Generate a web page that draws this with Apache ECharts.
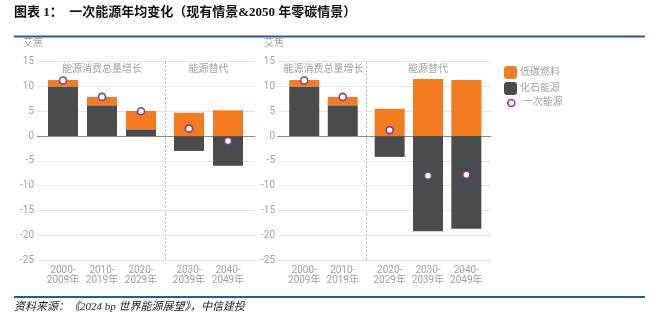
<!DOCTYPE html>
<html><head><meta charset="utf-8">
<script src="https://cdn.jsdelivr.net/npm/echarts@6/dist/echarts.min.js"></script>
<style>html,body{margin:0;padding:0;background:#fff}#c{width:664px;height:328px}</style>
</head><body><div id="c"></div>
<script>
// Categories
const catGrowth = ['2000-\n2009年', '2010-\n2019年', '2020-\n2029年'];
const catSubst = ['2030-\n2039年', '2040-\n2049年'];
const catGrowthR = ['2000-\n2009年', '2010-\n2019年'];
const catSubstR = ['2020-\n2029年', '2030-\n2039年', '2040-\n2049年'];
// Left panel (现有情景)
const leftFossil = [10.0, 6.2, 1.35, -3.0, -6.0];
const leftLowCarbon = [1.3, 1.7, 3.7, 4.7, 5.2];
const leftPrimary = [11.2, 7.9, 5.0, 1.5, -1.0];
// Right panel (2050 零碳情景)
const rightFossil = [10.0, 6.2, -4.2, -19.2, -18.7];
const rightLowCarbon = [1.3, 1.7, 5.5, 11.5, 11.3];
const rightPrimary = [11.2, 7.9, 1.2, -8.0, -7.8];
const yTicks = { min: -25, max: 15, interval: 5 };
const unitLabel = '艾焦';
const groupNames = ['能源消费总量增长', '能源替代'];
const seriesNames = ['化石能源', '低碳燃料', '一次能源'];

const ORANGE = '#F47B20', DARK = '#4A4B4D', PURPLE = '#7B3F9E';
const FONT = "Roboto, 'Noto Sans CJK SC', sans-serif";
const TXT = '#a0a0a0';
const TOP = 61.7, BOTTOM = 260;
const H = BOTTOM - TOP;

const bgGrids = [{ left: 37, width: 218 }, { left: 278, width: 213 }];
const barGrids = [
  { left: 43.5, width: 117, cats: catGrowth, idx: [0, 1, 2], panel: 0 },
  { left: 169.5, width: 78, cats: catSubst, idx: [3, 4], panel: 0 },
  { left: 285, width: 77, cats: catGrowthR, idx: [0, 1], panel: 1 },
  { left: 370.5, width: 115, cats: catSubstR, idx: [2, 3, 4], panel: 1 }
];
const panelData = [
  { fossil: leftFossil, lc: leftLowCarbon, pr: leftPrimary },
  { fossil: rightFossil, lc: rightLowCarbon, pr: rightPrimary }
];

const grid = [], xAxis = [], yAxis = [], series = [];
bgGrids.forEach((g, i) => {
  grid.push({ left: g.left, top: TOP, width: g.width, height: H });
  xAxis.push({ type: 'category', data: [''], gridIndex: i,
    axisLine: { show: true, onZero: true, lineStyle: { color: '#8a8a8a', width: 1 } },
    axisTick: { show: false }, axisLabel: { show: false } });
  yAxis.push({ type: 'value', gridIndex: i, min: yTicks.min, max: yTicks.max, interval: yTicks.interval,
    axisLine: { show: false }, axisTick: { show: false },
    splitLine: { lineStyle: { color: '#e5e5e5', width: 1 } },
    axisLabel: { color: TXT, fontSize: 10, fontFamily: FONT, margin: 3 } });
});
barGrids.forEach((g, k) => {
  const gi = k + 2;
  grid.push({ left: g.left, top: TOP, width: g.width, height: H });
  xAxis.push({ type: 'category', data: g.cats, gridIndex: gi,
    axisLine: { show: false }, axisTick: { show: false },
    axisLabel: { color: TXT, fontSize: 10, fontFamily: FONT, margin: 5, lineHeight: 10, interval: 0 } });
  yAxis.push({ type: 'value', gridIndex: gi, min: yTicks.min, max: yTicks.max, interval: yTicks.interval, show: false, splitLine: { show: false } });
  const pd = panelData[g.panel];
  const pick = arr => g.idx.map(i => arr[i]);
  series.push({ name: seriesNames[0], type: 'bar', stack: 's' + k, xAxisIndex: gi, yAxisIndex: gi,
    barWidth: 30, data: pick(pd.fossil), itemStyle: { color: DARK } });
  series.push({ name: seriesNames[1], type: 'bar', stack: 's' + k, xAxisIndex: gi, yAxisIndex: gi,
    barWidth: 30, data: pick(pd.lc), itemStyle: { color: ORANGE } });
  series.push({ name: seriesNames[2], type: 'scatter', xAxisIndex: gi, yAxisIndex: gi, z: 5,
    symbol: 'circle', symbolSize: 7, data: pick(pd.pr),
    itemStyle: { color: '#fff', borderColor: PURPLE, borderWidth: 1.6, opacity: 1 } });
});

const graphic = [
  { type: 'text', left: 14, top: 6, style: { text: '图表 1：  一次能源年均变化（现有情景&2050 年零碳情景）', font: "bold 13px 'Liberation Serif', 'Noto Sans CJK SC'", fill: '#111' } },
  { type: 'line', shape: { x1: 14, y1: 36.5, x2: 645, y2: 36.5 }, style: { stroke: '#2C5C8F', lineWidth: 2 } },
  { type: 'line', shape: { x1: 14, y1: 297, x2: 645, y2: 297 }, style: { stroke: '#2C5C8F', lineWidth: 2 } },
  { type: 'text', left: 14, top: 302, style: { text: '资料来源：《2024 bp 世界能源展望》，中信建投', font: "italic 11px 'Liberation Serif', 'Noto Sans CJK SC'", fill: '#222' } },
  { type: 'text', left: 23, top: 39, style: { text: unitLabel, font: '10px ' + FONT, fill: TXT } },
  { type: 'text', left: 264, top: 39, style: { text: unitLabel, font: '10px ' + FONT, fill: TXT } }
];
// separators between groups
[[barGrids[0], barGrids[1]], [barGrids[2], barGrids[3]]].forEach(([a, b]) => {
  const x = Math.round((a.left + a.width + b.left) / 2) + 0.5;
  graphic.push({ type: 'line', shape: { x1: x, y1: TOP, x2: x, y2: BOTTOM }, style: { stroke: '#aaaaaa', lineWidth: 1, lineDash: [2, 2] } });
});
// group headings
barGrids.forEach((g, k) => {
  graphic.push({ type: 'text', x: g.left + g.width / 2, y: 69, style: { text: groupNames[k % 2 === 0 ? 0 : 1], font: '10px ' + FONT, fill: TXT, align: 'center', verticalAlign: 'middle' } });
});

const option = {
  animation: false,
  grid, xAxis, yAxis, series, graphic,
  legend: [
    { left: 499, top: 61, orient: 'vertical', itemWidth: 13, itemHeight: 13, itemGap: 3,
      data: [seriesNames[1], seriesNames[0]],
      textStyle: { color: TXT, fontSize: 10, fontFamily: FONT, padding: [0, 0, 0, -2] } },
    { left: 502, top: 93, orient: 'vertical', itemWidth: 7, itemHeight: 7,
      data: [{ name: seriesNames[2], icon: 'circle' }],
      itemStyle: { color: '#fff', borderColor: PURPLE, borderWidth: 1.6 },
      textStyle: { color: TXT, fontSize: 10, fontFamily: FONT, padding: [0, 0, 0, 3] } }
  ]
};
const chart = echarts.init(document.getElementById('c'), null, { renderer: 'canvas' });
chart.setOption(option);
</script></body></html>
